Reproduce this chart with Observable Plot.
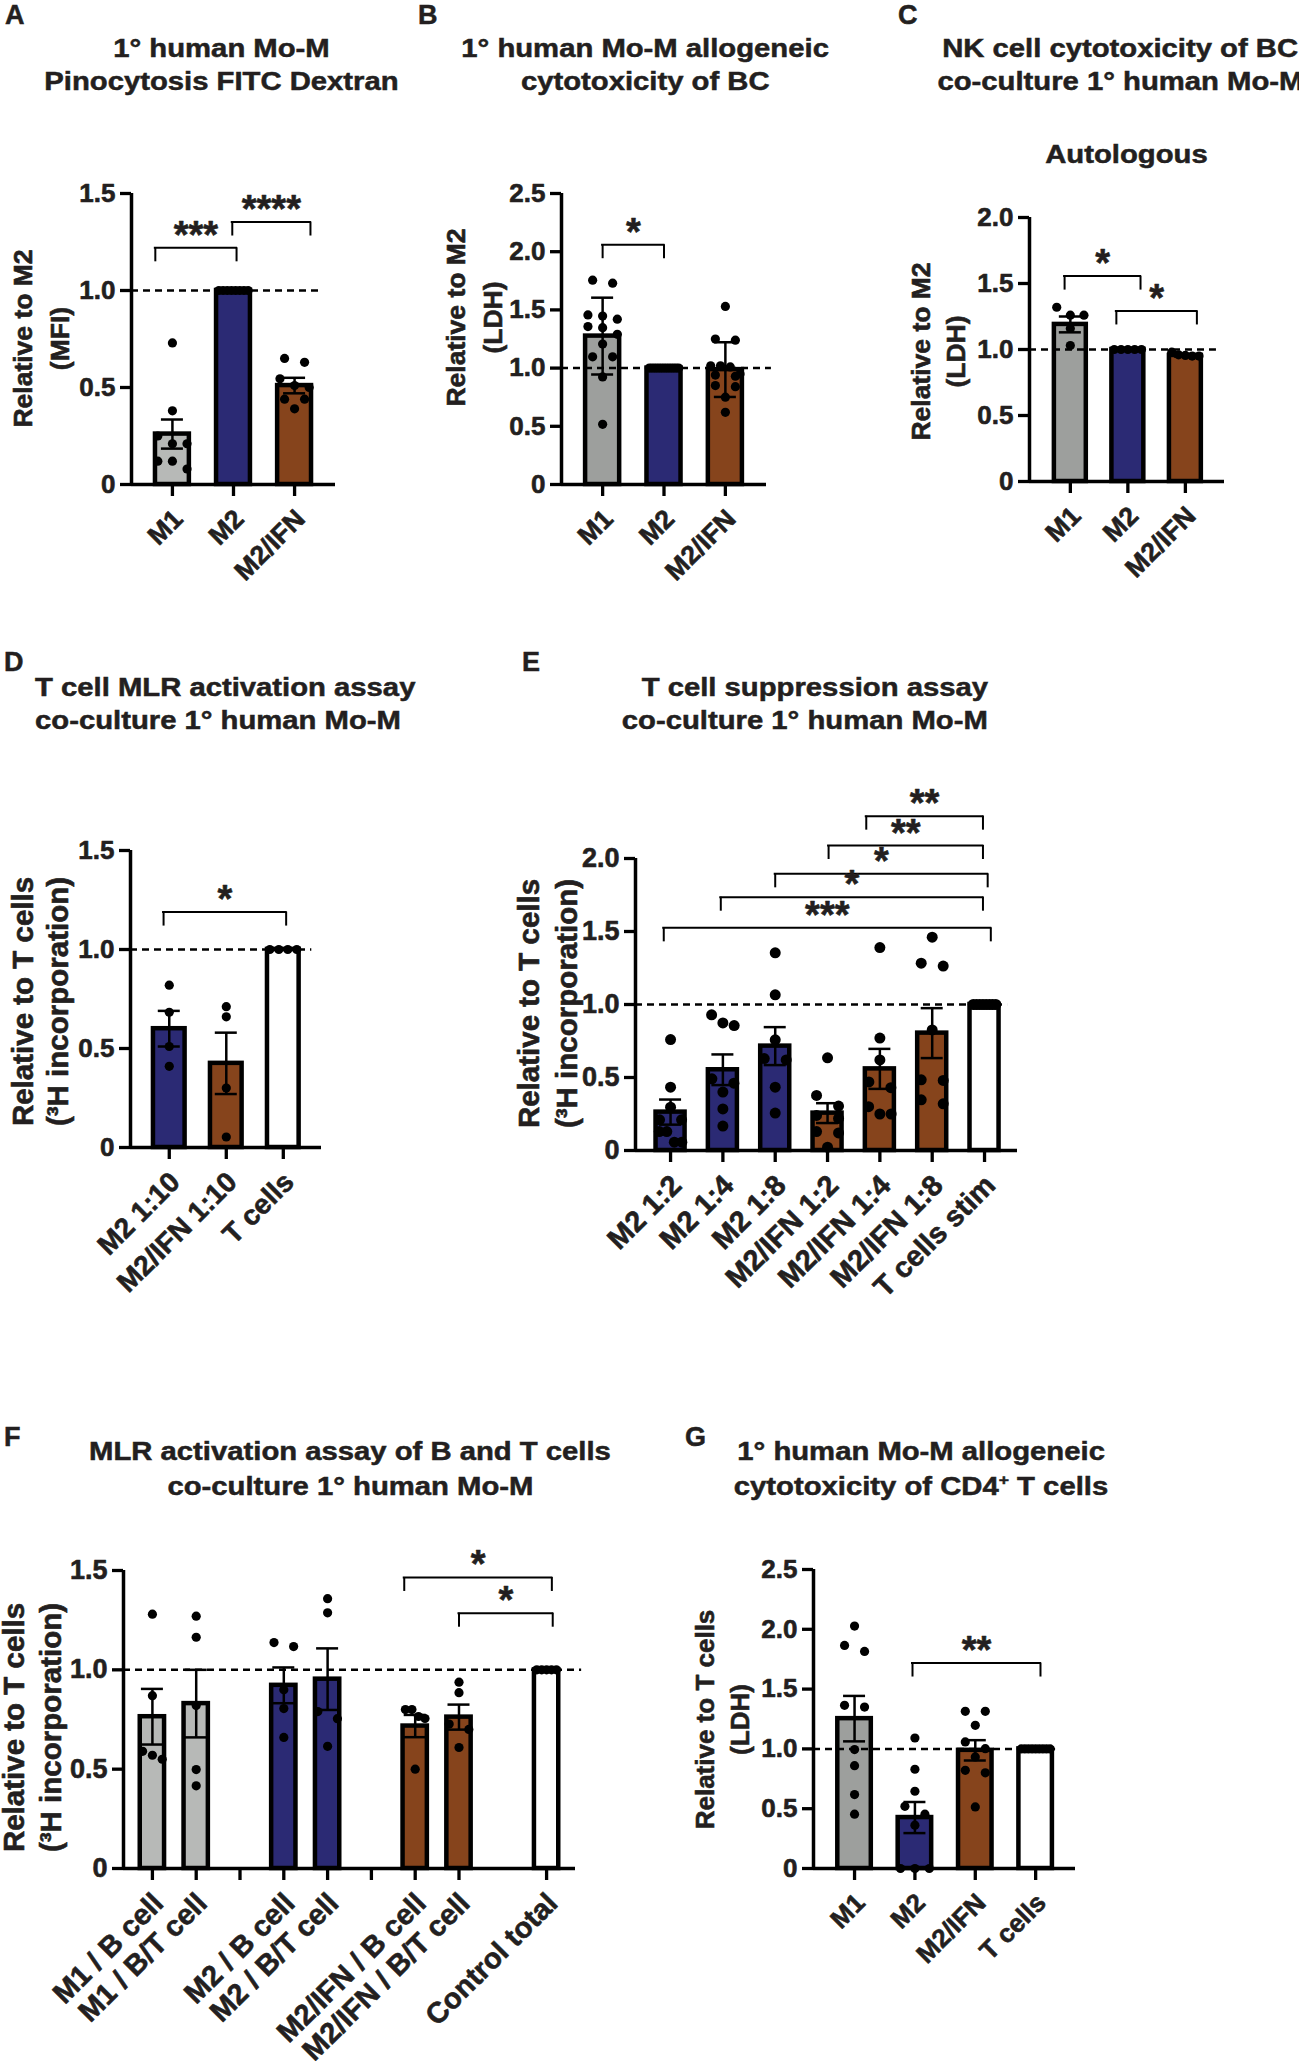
<!DOCTYPE html>
<html><head><meta charset="utf-8">
<script src="https://cdn.jsdelivr.net/npm/d3@7"></script>
<script src="https://cdn.jsdelivr.net/npm/@observablehq/plot@0.6"></script>
<style>
html,body{margin:0;padding:0;background:#fff;}
#page{position:relative;width:1299px;height:2065px;overflow:hidden;font-family:"Liberation Sans",Arial,Helvetica,sans-serif;color:#231f20;}
.t{position:absolute;font-weight:bold;font-size:25px;white-space:nowrap;-webkit-text-stroke:0.5px #231f20;}
.t span{display:inline-block;transform:scaleX(1.17);}
.t sup{font-size:60%;vertical-align:0.7em;line-height:0;}
.lt{position:absolute;font-weight:bold;font-size:27px;line-height:30px;-webkit-text-stroke:0.5px #231f20;}
</style></head><body><div id="page"></div>
<script>
// ---------------- DATA ----------------
// A: Pinocytosis FITC Dextran
const aCats = ["M1", "M2", "M2/IFN"];
const aMeans = [0.26, 1.0, 0.51];
const aErrs = [0.075, 0, 0.04];
const aPoints = [[0.73, 0.38, 0.25, 0.21, 0.21, 0.12, 0.12, 0.08], [1, 1, 1, 1, 1, 1, 1, 1], [0.65, 0.63, 0.545, 0.51, 0.50, 0.44, 0.44, 0.39]];
const aBrackets = [{from: -0.28, to: 1.05, y: 1.22, label: "***"}, {from: 0.98, to: 2.26, y: 1.353, label: "****"}];
const aTicks = [0, 0.5, 1.0, 1.5];
// B: allogeneic cytotoxicity of BC
const bCats = ["M1", "M2", "M2/IFN"];
const bMeans = [1.275, 1.0, 0.987];
const bErrs = [0.33, 0, 0.235];
const bPoints = [[1.755, 1.73, 1.457, 1.447, 1.42, 1.357, 1.347, 1.29, 1.206, 1.097, 1.097, 0.924, 0.517], [1, 1, 1, 1, 1, 1, 1, 1, 1, 1, 1, 1, 1], [1.53, 1.25, 1.24, 1.02, 1.02, 1.01, 0.95, 0.94, 0.93, 0.85, 0.84, 0.75, 0.62]];
const bBrackets = [{from: 0, to: 1, y: 2.06, label: "*"}];
const bTicks = [0, 0.5, 1.0, 1.5, 2.0, 2.5];
// C: NK cell cytotoxicity, autologous
const cCats = ["M1", "M2", "M2/IFN"];
const cMeans = [1.19, 1.0, 0.955];
const cErrs = [0.06, 0, 0.008];
const cPoints = [[1.32, 1.26, 1.26, 1.16, 1.03], [1, 1, 1, 1, 1], [0.98, 0.96, 0.955, 0.95, 0.95]];
const cBrackets = [{from: -0.1, to: 1.22, y: 1.556, label: "*"}, {from: 0.8, to: 2.2, y: 1.292, label: "*"}];
const cTicks = [0, 0.5, 1.0, 1.5, 2.0];
// D: T cell MLR activation
const dCats = ["M2 1:10", "M2/IFN 1:10", "T cells"];
const dMeans = [0.60, 0.425, 1.0];
const dErrs = [0.09, 0.155, 0];
const dPoints = [[0.82, 0.683, 0.51, 0.41], [0.711, 0.66, 0.30, 0.053], [1, 1, 1, 1]];
const dBrackets = [{from: -0.1, to: 2.05, y: 1.189, label: "*"}];
const dTicks = [0, 0.5, 1.0, 1.5];
// E: T cell suppression
const eCats = ["M2 1:2", "M2 1:4", "M2 1:8", "M2/IFN 1:2", "M2/IFN 1:4", "M2/IFN 1:8", "T cells stim"];
const eMeans = [0.263, 0.553, 0.715, 0.256, 0.559, 0.804, 1.0];
const eErrs = [0.086, 0.105, 0.13, 0.068, 0.137, 0.171, 0];
const ePoints = [
  [0.76, 0.434, 0.297, 0.21, 0.21, 0.13, 0.13, 0.057, 0.057],
  [0.929, 0.874, 0.856, 0.491, 0.461, 0.40, 0.285, 0.167],
  [1.354, 1.066, 0.758, 0.63, 0.62, 0.434, 0.256],
  [0.635, 0.377, 0.304, 0.24, 0.22, 0.13, 0.12, 0.023],
  [1.39, 0.77, 0.62, 0.47, 0.43, 0.30, 0.25, 0.25],
  [1.461, 1.283, 1.263, 0.826, 0.484, 0.48, 0.347, 0.32],
  [1, 1, 1, 1, 1, 1, 1, 1]
];
const eBrackets = [
  {from: -0.13, to: 6.12, y: 1.525, label: "***"},
  {from: 0.96, to: 5.97, y: 1.735, label: "*"},
  {from: 2.0, to: 6.06, y: 1.895, label: "*"},
  {from: 3.02, to: 5.97, y: 2.089, label: "**"},
  {from: 3.74, to: 5.97, y: 2.29, label: "**"}
];
const eTicks = [0, 0.5, 1.0, 1.5, 2.0];
// F: MLR activation of B and T cells ("" = empty slot with tick, null = empty slot without tick)
const fCats = ["M1 / B cell", "M1 / B/T cell", "", "M2 / B cell", "M2 / B/T cell", "", "M2/IFN / B cell", "M2/IFN / B/T cell", null, "Control total"];
const fMeans = [0.764, 0.83, null, 0.922, 0.953, null, 0.717, 0.762, null, 1.0];
const fErrs = [0.14, 0.17, null, 0.09, 0.155, null, 0.056, 0.063, null, 0];
const fPoints = [[1.28, 0.87, 0.59, 0.57, 0.55], [1.27, 1.164, 0.82, 0.498, 0.416], [], [1.137, 1.117, 0.90, 0.805, 0.66], [1.358, 1.287, 0.79, 0.754, 0.615], [], [0.80, 0.80, 0.765, 0.755, 0.50], [0.938, 0.885, 0.727, 0.70, 0.609], [], [1, 1, 1, 1, 1]];
const fBrackets = [{from: 5.75, to: 9.12, y: 1.465, label: "*"}, {from: 7.0, to: 9.14, y: 1.285, label: "*"}];
const fTicks = [0, 0.5, 1.0, 1.5];
// G: allogeneic cytotoxicity of CD4+ T cells
const gCats = ["M1", "M2", "M2/IFN", "T cells"];
const gMeans = [1.253, 0.426, 0.988, 1.0];
const gErrs = [0.19, 0.13, 0.085, 0];
const gPoints = [[2.027, 1.865, 1.815, 1.364, 1.35, 0.994, 0.86, 0.618, 0.454], [1.091, 0.83, 0.646, 0.52, 0.454, 0.362, 0, 0, 0], [1.314, 1.314, 1.197, 1.058, 1.002, 0.933, 0.821, 0.80, 0.515], [1, 1, 1, 1, 1, 1, 1, 1, 1]];
const gBrackets = [{from: 0.96, to: 3.08, y: 1.718, label: "**"}];
const gTicks = [0, 0.5, 1.0, 1.5, 2.0, 2.5];

// ---------------- STYLE ----------------
const FONT = '"Liberation Sans", Arial, Helvetica, sans-serif';
const INK = "#231f20";
const FILL = {gray1: "#b7b9b7", gray2: "#9d9f9d", navy: "#2b2a74", brown: "#86441c", white: "#ffffff"};
const aGroups = ["gray1", "navy", "brown"];
const bGroups = ["gray2", "navy", "brown"];
const cGroups = ["gray2", "navy", "brown"];
const dGroups = ["navy", "brown", "white"];
const eGroups = ["navy", "navy", "navy", "brown", "brown", "brown", "white"];
const fGroups = ["gray1", "gray1", null, "navy", "navy", null, "brown", "brown", null, "white"];
const gGroups = ["gray2", "navy", "brown", "white"];
const BAR_HALF = 0.2775;
const page = document.getElementById("page");

function swarmOffsets(vals, pxY, barPx, r, maxSp) {
  const order = vals.map((v, i) => i).sort((a, b) => vals[b] - vals[a]);
  const rows = []; let cur = null;
  for (const i of order) {
    if (cur && Math.abs(vals[cur[0]] - vals[i]) * pxY < 2 * r) cur.push(i);
    else { cur = [i]; rows.push(cur); }
  }
  const off = vals.map(() => 0);
  for (const row of rows) {
    const n = row.length; if (n < 2) continue;
    const sp = Math.min(maxSp, (barPx - 2 * r) / (n - 1));
    row.forEach((i, k) => off[i] = (k - (n - 1) / 2) * sp);
  }
  return off;
}

function drawPanel(p) {
  const step = (p.right - p.left) / (p.xdom[1] - p.xdom[0]);
  const pxY = (p.bottom - p.top) / p.ymax;
  const mL = 150, mR = 70, mT = 170, mB = 250;
  const W = mL + (p.right - p.left) + mR, H = mT + (p.bottom - p.top) + mB;
  const r = p.r || 4.6;
  const bars = [], pts = [], labels = [], ticks = [];
  p.cats.forEach((c, i) => {
    if (c === null) return;
    ticks.push(i);
    if (c !== "") labels.push({i, text: c});
    if (p.means[i] == null) return;
    bars.push({i, mean: p.means[i], err: p.errs[i], fill: FILL[p.groups[i]]});
    const vals = p.points[i];
    const off = swarmOffsets(vals, pxY, 2 * BAR_HALF * step + 4.5, r, p.sp || 20);
    vals.forEach((v, k) => pts.push({x: i + off[k] / step, v}));
  });
  const eb = bars.filter(d => d.err > 0);
  const capU = 11 / step, legU = 14 / pxY, tickU = 12 / pxY;
  const midY = (p.top + p.bottom) / 2;
  const txt = {fontWeight: "bold", fill: INK, stroke: INK, strokeWidth: 0.6};
  const marks = [
    Plot.rect(bars, {x1: d => d.i - BAR_HALF, x2: d => d.i + BAR_HALF, y1: 0, y2: "mean", fill: d => d.fill, stroke: "#000", strokeWidth: 4.5}),
    Plot.ruleY([1], {x1: p.xdom[0], x2: p.dashEnd, stroke: "#000", strokeWidth: 2.5, strokeDasharray: "7,5"}),
    Plot.ruleX(eb, {x: "i", y1: d => d.mean - d.err, y2: d => d.mean + d.err, stroke: "#000", strokeWidth: 2.5}),
    Plot.ruleY(eb, {y: d => d.mean + d.err, x1: d => d.i - capU, x2: d => d.i + capU, stroke: "#000", strokeWidth: 2.5}),
    Plot.ruleY(eb, {y: d => d.mean - d.err, x1: d => d.i - capU, x2: d => d.i + capU, stroke: "#000", strokeWidth: 2.5}),
    Plot.dot(pts, {x: "x", y: "v", r, fill: "#000"}),
    Plot.ruleX([p.xdom[0]], {y1: 0, y2: p.ymax, stroke: "#000", strokeWidth: 3.5}),
    Plot.ruleY([0], {x1: p.xdom[0], x2: p.xdom[1], stroke: "#000", strokeWidth: 3.5}),
    Plot.axisY(p.yticks, {tickSize: 11, tickPadding: 5, tickFormat: v => v === 0 ? "0" : v.toFixed(1), fontSize: p.tickSize, fontWeight: "bold", fill: INK, textStroke: INK, textStrokeWidth: 0.6, stroke: "#000", strokeWidth: 3.3, label: null}),
    Plot.ruleX(ticks, {y1: 0, y2: -tickU, stroke: "#000", strokeWidth: 3.3}),
    Plot.text(labels, {x: "i", y: 0, text: "text", rotate: -45, textAnchor: "end", lineAnchor: "middle", dx: 6, dy: 30, fontSize: p.xlabSize, ...txt}),
    Plot.ruleY(p.brackets, {y: "y", x1: "from", x2: "to", stroke: "#000", strokeWidth: 2, strokeLinecap: "square"}),
    Plot.ruleX(p.brackets, {x: "from", y1: "y", y2: d => d.y - legU, stroke: "#000", strokeWidth: 2}),
    Plot.ruleX(p.brackets, {x: "to", y1: "y", y2: d => d.y - legU, stroke: "#000", strokeWidth: 2}),
    Plot.text(p.brackets, {x: d => (d.from + d.to) / 2, y: "y", text: "label", lineAnchor: "bottom", dy: 0, fontSize: 38, ...txt})
  ];
  p.ylab.forEach((t, k) => {
    marks.push(Plot.text([t], {frameAnchor: "left", text: d => d, rotate: -90, textAnchor: "middle", lineAnchor: "middle",
      dx: p.ylabX[k] - p.left, dy: p.ylabY - midY, fontSize: p.ylabSize, ...txt}));
  });
  const svg = Plot.plot({
    width: W, height: H, marginLeft: mL, marginRight: mR, marginTop: mT, marginBottom: mB,
    x: {domain: p.xdom, axis: null}, y: {domain: [0, p.ymax], axis: null},
    style: {fontFamily: FONT},
    marks
  });
  Object.assign(svg.style, {position: "absolute", left: (p.left - mL) + "px", top: (p.top - mT) + "px",
    background: "transparent", overflow: "visible", maxWidth: "none", color: "#000"});
  page.appendChild(svg);
}

function title(lines, x, y0, align, lh) {
  lines.forEach((ln, k) => {
    const d = document.createElement("div");
    d.className = "t";
    d.style.top = (y0 + k * lh - 16.5) + "px";
    d.style.lineHeight = "33px";
    const s = document.createElement("span");
    s.innerHTML = ln;
    if (align === "center") { d.style.left = (x - 600) + "px"; d.style.width = "1200px"; d.style.textAlign = "center"; }
    else if (align === "left") { d.style.left = x + "px"; s.style.transformOrigin = "0 50%"; }
    else { d.style.right = (1299 - x) + "px"; d.style.textAlign = "right"; s.style.transformOrigin = "100% 50%"; }
    d.appendChild(s); page.appendChild(d);
  });
}
function letter(ch, x, cy) {
  const d = document.createElement("div");
  d.className = "lt"; d.textContent = ch;
  d.style.left = x + "px"; d.style.top = (cy - 15) + "px";
  page.appendChild(d);
}

// ---------------- LAYOUT ----------------
const ylM2 = (u) => ["Relative to M2", u];
const ylT = (u) => ["Relative to T cells", u];
drawPanel({cats: aCats, groups: aGroups, means: aMeans, errs: aErrs, points: aPoints, brackets: aBrackets, yticks: aTicks, ymax: 1.5,
  left: 131, right: 335, top: 193, bottom: 484, xdom: [-0.67, 2.67], dashEnd: 2.45, ylab: ylM2("(MFI)"), ylabX: [23, 60], ylabY: 338, ylabSize: 26.5, tickSize: 26, xlabSize: 26.5});
drawPanel({cats: bCats, groups: bGroups, means: bMeans, errs: bErrs, points: bPoints, brackets: bBrackets, yticks: bTicks, ymax: 2.5,
  left: 561, right: 766, top: 193, bottom: 484, xdom: [-0.67, 2.67], dashEnd: 2.75, ylab: ylM2("(LDH)"), ylabX: [456, 493], ylabY: 317, ylabSize: 26.5, tickSize: 26, xlabSize: 26.5});
drawPanel({cats: cCats, groups: cGroups, means: cMeans, errs: cErrs, points: cPoints, brackets: cBrackets, yticks: cTicks, ymax: 2.0,
  left: 1029, right: 1224, top: 217, bottom: 481, xdom: [-0.71, 2.68], dashEnd: 2.54, ylab: ylM2("(LDH)"), ylabX: [921, 956], ylabY: 351, ylabSize: 26.5, tickSize: 26, xlabSize: 26.5});
drawPanel({cats: dCats, groups: dGroups, means: dMeans, errs: dErrs, points: dPoints, brackets: dBrackets, yticks: dTicks, ymax: 1.5,
  left: 130, right: 321, top: 850, bottom: 1147, xdom: [-0.68, 2.67], dashEnd: 2.5, ylab: ylT("(³H incorporation)"), ylabX: [23, 58], ylabY: 1001, ylabSize: 29.5, tickSize: 26, xlabSize: 28});
drawPanel({cats: eCats, groups: eGroups, means: eMeans, errs: eErrs, points: ePoints, brackets: eBrackets, yticks: eTicks, ymax: 2.0,
  left: 635, right: 1017, top: 858, bottom: 1150, xdom: [-0.67, 6.63], dashEnd: 6.44, ylab: ylT("(³H incorporation)"), ylabX: [529, 567], ylabY: 1003, ylabSize: 29.5, tickSize: 27, xlabSize: 29, r: 5.5, sp: 22});
drawPanel({cats: fCats, groups: fGroups, means: fMeans, errs: fErrs, points: fPoints, brackets: fBrackets, yticks: fTicks, ymax: 1.5,
  left: 123, right: 575, top: 1570, bottom: 1868, xdom: [-0.66, 9.66], dashEnd: 9.8, ylab: ylT("(³H incorporation)"), ylabX: [14, 51], ylabY: 1727, ylabSize: 29.5, tickSize: 27, xlabSize: 29});
drawPanel({cats: gCats, groups: gGroups, means: gMeans, errs: gErrs, points: gPoints, brackets: gBrackets, yticks: gTicks, ymax: 2.5,
  left: 813, right: 1075, top: 1569, bottom: 1868, xdom: [-0.68, 3.66], dashEnd: 3.33, ylab: ylT("(LDH)"), ylabX: [705, 740], ylabY: 1719, ylabSize: 26, tickSize: 26, xlabSize: 26});

title(["1° human Mo-M", "Pinocytosis FITC Dextran"], 221, 48.5, "center", 33);
title(["1° human Mo-M allogeneic", "cytotoxicity of BC"], 645, 48.5, "center", 33);
title(["NK cell cytotoxicity of BC", "co-culture 1° human Mo-M"], 1120, 48.5, "center", 33);
title(["Autologous"], 1126, 154, "center", 33);
title(["T cell MLR activation assay", "co-culture 1° human Mo-M"], 35, 687, "left", 33);
title(["T cell suppression assay", "co-culture 1° human Mo-M"], 988, 687, "right", 33);
title(["MLR activation assay of B and T cells", "co-culture 1° human Mo-M"], 350, 1451, "center", 35);
title(["1° human Mo-M allogeneic", "cytotoxicity of CD4<sup>+</sup> T cells"], 921, 1451, "center", 35);
letter("A", 5, 15); letter("B", 418, 15); letter("C", 898, 15);
letter("D", 4, 662); letter("E", 522, 662);
letter("F", 4, 1437); letter("G", 685, 1437);
</script></body></html>
